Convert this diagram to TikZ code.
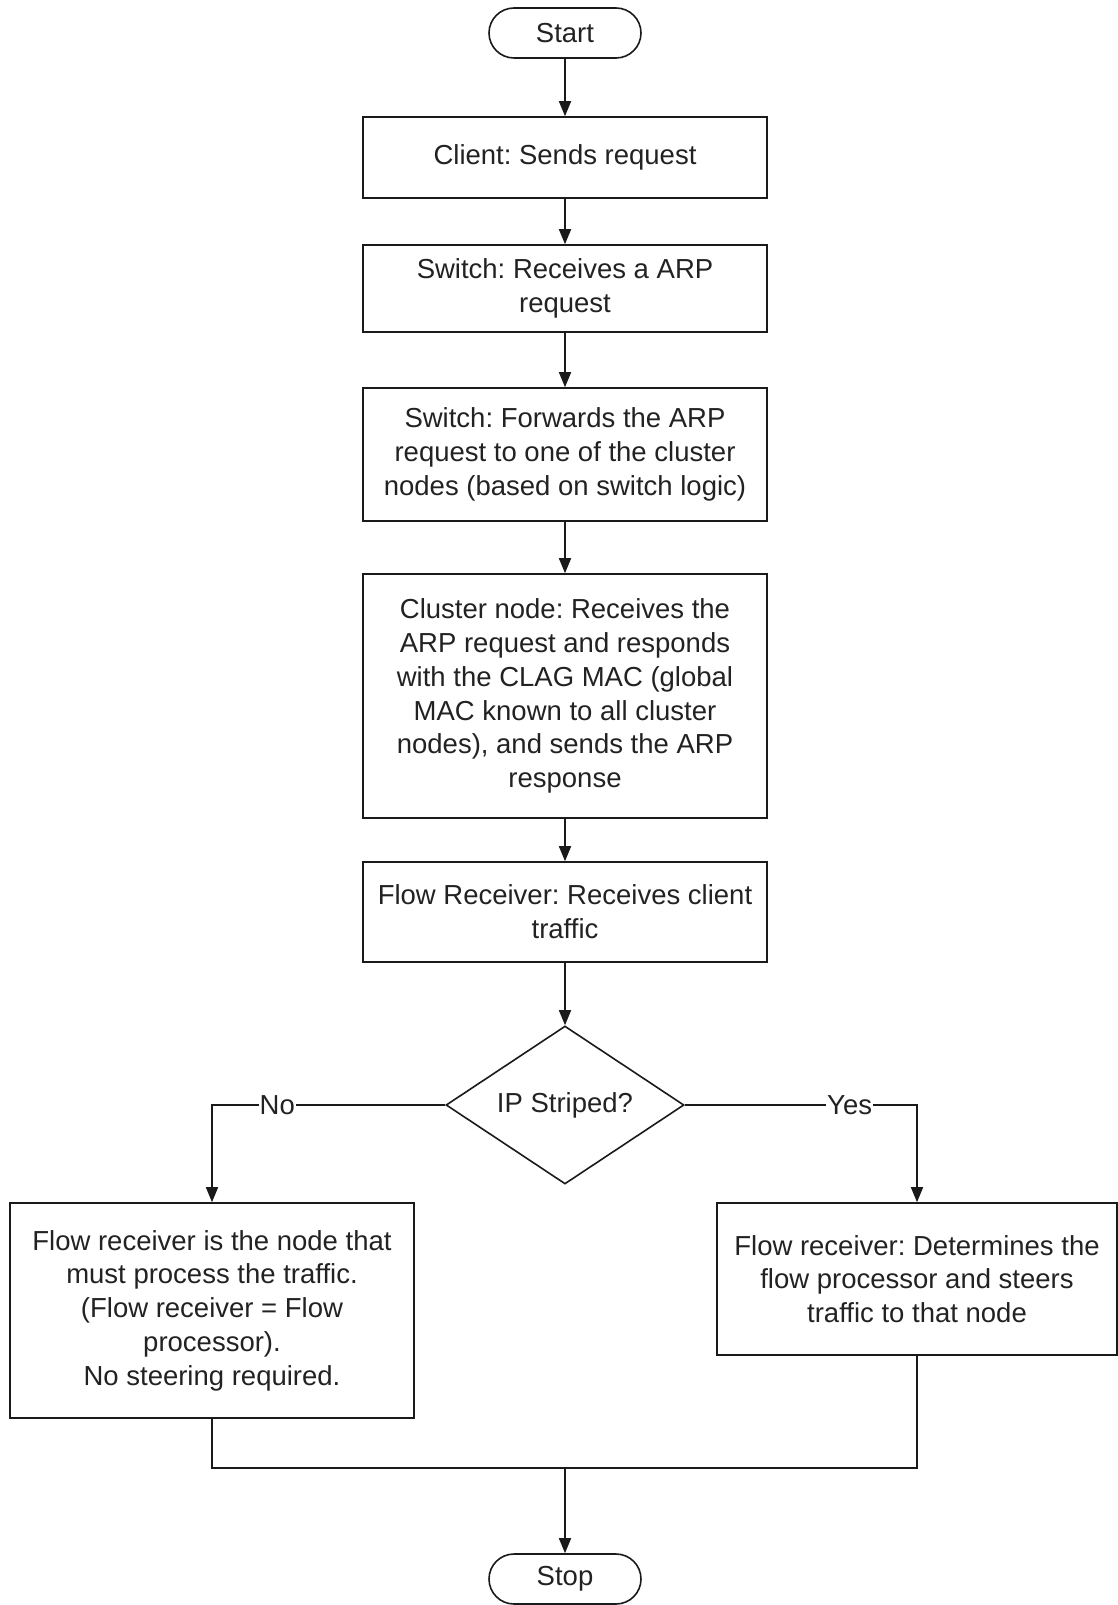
\documentclass[tikz,border=0pt]{standalone}
\usepackage{fontspec}
\setmainfont{Liberation Sans}
\frenchspacing
\usetikzlibrary{shapes.geometric,arrows.meta}
\definecolor{txt}{HTML}{222222}
\definecolor{ln}{HTML}{1A1A1A}
\tikzset{
  base/.style={draw=ln, line width=1.6pt, text=txt, align=center, inner sep=0pt,
    font=\fontsize{27.5}{33.8}\selectfont},
  procbox/.style={base, rectangle, minimum width=404pt},
  termbox/.style={base, rectangle, rounded corners=25pt, minimum width=152pt, minimum height=50pt},
  decbox/.style={base, diamond, aspect=1.5, minimum width=238pt, minimum height=158pt},
  conn/.style={draw=ln, line width=1.6pt, -{Triangle[length=15pt,width=12pt]}},
  plainconn/.style={draw=ln, line width=1.6pt},
  lbl/.style={fill=white, text=txt, inner sep=1pt, font=\fontsize{27.5}{33.8}\selectfont}
}
\begin{document}
\begin{tikzpicture}[x=1pt,y=-1pt]
\useasboundingbox (0,0) rectangle (1117,1605);
\node[termbox] (start) at (565,33) {Start};
\node[procbox, minimum height=81pt] (client) at (565,157.5) {Client: Sends request};
\node[procbox, minimum height=87pt] (sw) at (565,288.5) {Switch: Receives a ARP\\request};
\node[procbox, minimum height=133pt] (fwd) at (565,454.5) {Switch: Forwards the ARP\\request to one of the cluster\\nodes (based on switch logic)};
\node[procbox, minimum height=244pt] (clu) at (565,696) {Cluster node: Receives the\\ARP request and responds\\with the CLAG MAC (global\\MAC known to all cluster\\nodes), and sends the ARP\\response};
\node[procbox, minimum height=100pt] (frc) at (565,912) {Flow Receiver: Receives client\\traffic};
\node[decbox] (dec) at (565,1105) {IP Striped?};
\node[procbox, minimum height=215pt] (lb) at (212,1310.5) {Flow receiver is the node that\\must process the traffic.\\(Flow receiver = Flow\\processor).\\No steering required.};
\node[procbox, minimum width=400pt, minimum height=152pt] (rb) at (917,1279) {Flow receiver: Determines the\\flow processor and steers\\traffic to that node};
\node[termbox] (stop) at (565,1579) {Stop};
\coordinate (m) at (565,1468);

\draw[conn] (start) -- (client);
\draw[conn] (client) -- (sw);
\draw[conn] (sw) -- (fwd);
\draw[conn] (fwd) -- (clu);
\draw[conn] (clu) -- (frc);
\draw[conn] (frc) -- (dec);
\draw[conn] (dec.west) -| node[lbl, pos=0.36] {No} (lb.north);
\draw[conn] (dec.east) -| node[lbl, pos=0.355] {Yes} (rb.north);
\draw[plainconn] (lb.south) |- (m);
\draw[plainconn] (rb.south) |- (m);
\draw[conn] (m) -- (stop.north);
\end{tikzpicture}
\end{document}
